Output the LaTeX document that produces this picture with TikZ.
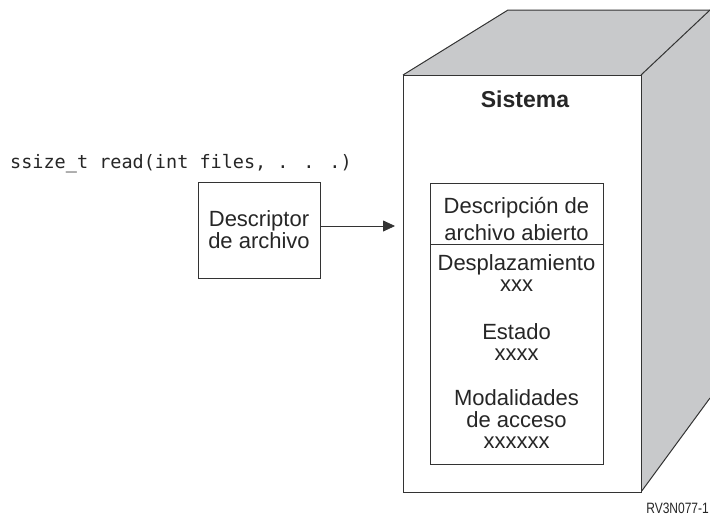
\documentclass[tikz,border=0pt]{standalone}
\usepackage{fontspec}
\setmainfont{Liberation Sans}
\newfontfamily\codefont{DejaVu Sans Mono}
\usetikzlibrary{arrows.meta}
\definecolor{linec}{HTML}{333333}
\definecolor{cubegray}{HTML}{C8C9CB}
\tikzset{
  txt/.style={inner sep=0pt, anchor=base, font=\fontsize{22}{26}\selectfont, text=black!85},
  edge/.style={draw=linec, line width=1pt},
}
\begin{document}
\begin{tikzpicture}[x=1pt,y=-1pt]
\useasboundingbox (0,0) rectangle (710,515);
% cube
\fill[cubegray] (403,75) -- (508,10) -- (710,10) -- (710,398) -- (641,492) -- (641,75) -- cycle;
\draw[edge, line join=round] (403,75) -- (508,10) -- (710,10);
\draw[edge] (641,75) -- (710,10);
\draw[edge] (641,492) -- (710,398);
\draw[edge, fill=white] (403,75) rectangle (641,492);
\node[inner sep=0pt, anchor=base, font=\fontsize{23}{27}\selectfont\bfseries, text=black!85] (sis) at (525,107) {Sistema};
% inner box
\draw[draw=linec, line width=0.8pt] (430,183) rectangle (603,464);
\draw[draw=linec, line width=0.8pt] (430,244) -- (604,244);
\node[txt] (d1) at (516.5,213) {Descripción de};
\node[txt] (d2) at (516.5,240) {archivo abierto};
\node[txt] (dz) at (516.5,270) {Desplazamiento};
\node[txt] (dx) at (516.5,291) {xxx};
\node[txt] (es) at (516.5,339) {Estado};
\node[txt] (ex) at (516.5,360) {xxxx};
\node[txt] (mo) at (516.5,405) {Modalidades};
\node[txt] (ma) at (516.5,427) {de acceso};
\node[txt] (mx) at (516.5,448) {xxxxxx};
% descriptor box
\node[draw=linec, line width=0.8pt, minimum width=122pt, minimum height=96pt, inner sep=0pt] (desc) at (259,230) {};
\node[txt] (t1) at (259,226) {Descriptor};
\node[txt] (t2) at (259,248) {de archivo};
\coordinate (tip) at (395,226);
\draw[draw=linec, line width=0.8pt, -{Triangle[length=12pt,width=11pt]}] (desc.east |- tip) -- (tip);
% code
\node[inner sep=0pt, anchor=base west, font=\codefont\fontsize{18.5}{22}\selectfont, text=black!85] (code) at (10,168) {ssize\_t read(int files, . . .)};
% figure id
\node[inner sep=0pt, anchor=base east, font=\fontsize{15}{18}\selectfont, xscale=0.8, text=black!85] (fid) at (709,513) {RV3N077-1};
\end{tikzpicture}
\end{document}
